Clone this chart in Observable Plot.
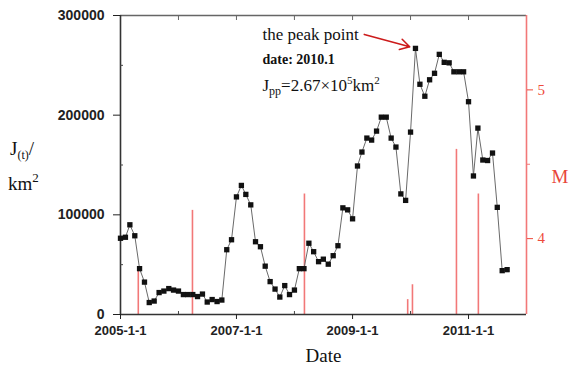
<!DOCTYPE html>
<html><head><meta charset="utf-8">
<script src="https://cdn.jsdelivr.net/npm/d3@7"></script>
<script src="https://cdn.jsdelivr.net/npm/@observablehq/plot@0.6"></script>
<style>body{margin:0;background:#fff}svg{display:block}</style>
</head><body><div id="chart"></div>
<script>
const months = [
"2005-01","2005-02","2005-03","2005-04","2005-05","2005-06","2005-07","2005-08","2005-09","2005-10","2005-11","2005-12",
"2006-01","2006-02","2006-03","2006-04","2006-05","2006-06","2006-07","2006-08","2006-09","2006-10","2006-11","2006-12",
"2007-01","2007-02","2007-03","2007-04","2007-05","2007-06","2007-07","2007-08","2007-09","2007-10","2007-11","2007-12",
"2008-01","2008-02","2008-03","2008-04","2008-05","2008-06","2008-07","2008-08","2008-09","2008-10","2008-11","2008-12",
"2009-01","2009-02","2009-03","2009-04","2009-05","2009-06","2009-07","2009-08","2009-09","2009-10","2009-11","2009-12",
"2010-01","2010-02","2010-03","2010-04","2010-05","2010-06","2010-07","2010-08","2010-09","2010-10","2010-11","2010-12",
"2011-01","2011-02","2011-03","2011-04","2011-05","2011-06","2011-07","2011-08","2011-09"];
const areaKm2 = [
76500,77500,90000,79000,46000,32500,12000,13500,22000,23500,26000,24500,
23500,20000,20000,20000,18000,20500,12500,15000,13000,14500,65000,75000,
118000,129500,120500,110000,73000,68000,48500,33000,25500,17500,29000,20000,
24500,46000,46000,71500,63000,53000,55500,50500,59000,69000,107000,105000,
96000,149000,163000,177000,175000,184000,198000,198000,177000,168000,121000,114500,
183000,267000,231000,219000,235500,242000,261000,253000,252500,243500,243500,243500,
213500,139000,187000,155000,154500,162000,107500,44000,45000];
const quakeDates = ["2005-04-23","2006-03-30","2008-03-04","2009-12-14","2010-01-13","2010-10-17","2011-03-04"];
const quakeM = [3.78,4.19,4.30,3.59,3.69,4.60,4.30];
const areaTicks = [0,100000,200000,300000];
const areaMinorTicks = [50000,150000,250000];
const yearTicks = ["2005-01-01","2007-01-01","2009-01-01","2011-01-01"];
const yearMinorTicks = ["2006-01-01","2008-01-01","2010-01-01"];
const topTicks = ["2006-01-01","2007-01-01","2008-01-01","2009-01-01","2010-01-01","2011-01-01"];
const mTicks = [4,5];
const mMinorTicks = [4.5];
const mDomain = [3.49,5.5];
const xDomain = ["2005-01-01","2012-01-01"];
const peakIndex = 61;
const annotAnchor = {date: "2007-06-17", value: 275000};
const arrowStart = {date: "2009-03-16", value: 281000};

const series = months.map((m,i) => ({date: new Date(m + "-01"), value: areaKm2[i]}));
const quakes = quakeDates.map((d,i) => ({date: new Date(d), m: quakeM[i]}));
const peak = series[peakIndex];
const mScale = d3.scaleLinear(mDomain, [0, 300000]);
const serif = "'Liberation Serif','Times New Roman',serif";
const sans = "'Liberation Sans',Arial,sans-serif";
const red = "#f27878";
const x0 = new Date(xDomain[0]), x1 = new Date(xDomain[1]);

const chart = Plot.plot({
  width: 570, height: 369,
  marginLeft: 120, marginRight: 44, marginTop: 15, marginBottom: 55,
  x: {type: "utc", domain: [x0, x1]},
  y: {domain: [0, 300000]},
  style: {fontFamily: sans, background: "white", overflow: "visible"},
  marks: [
    Plot.ruleX(quakes, {x: "date", y1: 0, y2: d => mScale(d.m), stroke: red, strokeWidth: 1.6}),
    Plot.ruleY([300000], {stroke: "#666", strokeWidth: 1.3}),
    Plot.ruleX([x1], {stroke: red, strokeWidth: 1.6}),
    Plot.ruleX([x0], {stroke: "#333", strokeWidth: 1.6}),
    Plot.ruleY([0], {stroke: "#333", strokeWidth: 1.6}),
    Plot.axisY(areaTicks, {anchor: "left", tickSize: 7, tickPadding: 9, fontSize: 14, fontWeight: "bold", tickFormat: d => String(d), label: null, color: "#222"}),
    Plot.axisY(areaMinorTicks, {anchor: "left", tickSize: 3, dx: 3, fill: "none", label: null, stroke: "#444"}),
    Plot.axisY(mTicks.map(mScale), {anchor: "right", tickSize: 6, tickPadding: 5, fontSize: 15, fontFamily: serif, tickFormat: v => String(Math.round(mScale.invert(v))), label: null, color: "#ee4a3c"}),
    Plot.axisY(mMinorTicks.map(mScale), {anchor: "right", tickSize: 3, fill: "none", label: null, stroke: red}),
    Plot.axisX(yearTicks.map(d => new Date(d)), {anchor: "bottom", tickSize: 5, tickPadding: 6, fontSize: 13, fontWeight: "bold", tickFormat: d => `${d.getUTCFullYear()}-1-1`, label: null, color: "#222"}),
    Plot.axisX(yearMinorTicks.map(d => new Date(d)), {anchor: "bottom", tickSize: 3, dy: -3, fill: "none", label: null, stroke: "#444"}),
    Plot.axisX(topTicks.map(d => new Date(d)), {anchor: "top", tickSize: 4, dy: 4, fill: "none", label: null, stroke: "#666"}),
    Plot.line(series, {x: "date", y: "value", stroke: "#6a6a6a", strokeWidth: 1}),
    Plot.dot(series, {x: "date", y: "value", symbol: "square", r: 3, fill: "#111", stroke: "none"}),
    Plot.arrow([peak], {x1: () => new Date(arrowStart.date), y1: () => arrowStart.value, x2: "date", y2: "value", insetEnd: 6, stroke: "#cc1b1b", strokeWidth: 1.6, headLength: 10}),
    Plot.text(["Date"], {frameAnchor: "bottom", dy: 41, lineAnchor: "middle", fontFamily: serif, fontSize: 19, fill: "#111"})
  ]
});
document.getElementById("chart").appendChild(chart);

const svg = d3.select(chart);
const xs = chart.scale("x"), ys = chart.scale("y");
const ax = xs.apply(new Date(annotAnchor.date)), ay = ys.apply(annotAnchor.value);

// annotation text
svg.append("text").attr("x", ax).attr("y", ay).attr("text-anchor", "start").attr("font-family", serif).attr("font-size", 17).attr("fill", "#111").text("the peak point");
svg.append("text").attr("x", ax).attr("y", ay + 24).attr("text-anchor", "start").attr("font-family", serif).attr("font-size", 14).attr("font-weight", "bold").attr("fill", "#111").text("date: 2010.1");
const a3 = svg.append("text").attr("x", ax).attr("y", ay + 51).attr("text-anchor", "start").attr("font-family", serif).attr("font-size", 17).attr("fill", "#111");
a3.append("tspan").text("J");
a3.append("tspan").attr("font-size", 12).attr("dy", 4).text("pp");
a3.append("tspan").attr("dy", -4).text("=2.67×10");
a3.append("tspan").attr("font-size", 11).attr("dy", -7).text("5");
a3.append("tspan").attr("dy", 7).text("km");
a3.append("tspan").attr("font-size", 11).attr("dy", -7).text("2");

// left axis title
const t1 = svg.append("text").attr("x", 10).attr("y", 155).attr("text-anchor", "start").attr("font-family", serif).attr("font-size", 19).attr("fill", "#111");
t1.append("tspan").text("J");
t1.append("tspan").attr("font-size", 12).attr("dy", 4).text("(t)");
t1.append("tspan").attr("dy", -4).text("/");
const t2 = svg.append("text").attr("x", 8).attr("y", 190).attr("text-anchor", "start").attr("font-family", serif).attr("font-size", 19).attr("fill", "#111");
t2.append("tspan").text("km");
t2.append("tspan").attr("font-size", 13).attr("dy", -8).text("2");

// right axis title
svg.append("text").attr("x", 560).attr("y", 183).attr("text-anchor", "middle").attr("font-family", serif).attr("font-size", 19).attr("fill", "#e8463a").text("M");
</script>
</body></html>
